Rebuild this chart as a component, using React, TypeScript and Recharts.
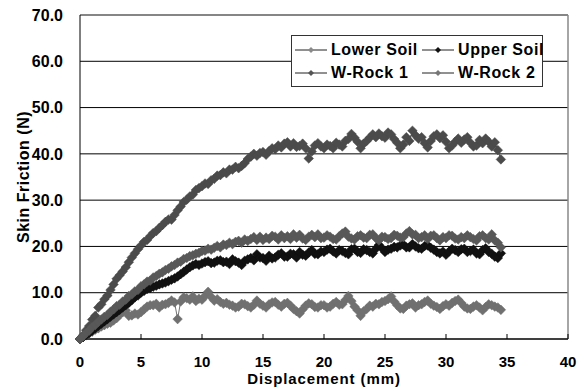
import React from 'react';
import { LineChart, Line, XAxis, YAxis, CartesianGrid, ReferenceLine, Legend } from 'recharts';

// displacement (mm), shared by all four series
const displacement = [
  0, 0.25, 0.5, 0.75, 1, 1.25, 1.5, 1.75, 2, 2.25, 2.5, 2.75, 3, 3.25, 3.5, 3.75, 4, 4.25, 4.5, 4.75,
  5, 5.25, 5.5, 5.75, 6, 6.25, 6.5, 6.75, 7, 7.25, 7.5, 7.75, 8, 8.25, 8.5, 8.75, 9, 9.25, 9.5, 9.75,
  10, 10.25, 10.5, 10.75, 11, 11.25, 11.5, 11.75, 12, 12.25, 12.5, 12.75, 13, 13.25, 13.5, 13.75, 14, 14.25, 14.5, 14.75,
  15, 15.25, 15.5, 15.75, 16, 16.25, 16.5, 16.75, 17, 17.25, 17.5, 17.75, 18, 18.25, 18.5, 18.75, 19, 19.25, 19.5, 19.75,
  20, 20.25, 20.5, 20.75, 21, 21.25, 21.5, 21.75, 22, 22.25, 22.5, 22.75, 23, 23.25, 23.5, 23.75, 24, 24.25, 24.5, 24.75,
  25, 25.25, 25.5, 25.75, 26, 26.25, 26.5, 26.75, 27, 27.25, 27.5, 27.75, 28, 28.25, 28.5, 28.75, 29, 29.25, 29.5, 29.75,
  30, 30.25, 30.5, 30.75, 31, 31.25, 31.5, 31.75, 32, 32.25, 32.5, 32.75, 33, 33.25, 33.5, 33.75, 34, 34.25, 34.5,
];

const lowerSoil = [
  0, 0.4, 0.8, 1.2, 1.6, 2, 2.3, 2.7, 3, 3.3, 3.5, 4, 4.5, 5.2, 5.8, 6.2, 5, 5.1, 5.5, 5.3,
  5.8, 6.4, 7, 7.3, 7.3, 7.6, 6.8, 7.4, 7.5, 7.8, 8.3, 7.9, 4.3, 8.1, 9, 8.8, 8.5, 9.2, 8.2, 8.7,
  8.5, 9.3, 10.2, 9.1, 8.3, 8.6, 8, 7.6, 7.8, 7.4, 7.2, 6.8, 7, 7.6, 7.5, 7.1, 6.8, 7.4, 8.3, 7.6,
  7.2, 6.8, 7.5, 7.9, 8, 7.4, 7, 7.6, 7.8, 7.2, 6.5, 6, 5.5, 6.4, 7.2, 7.7, 7.5, 6.9, 6.8, 7.3,
  7.3, 6.8, 7, 7.6, 8, 7.4, 7.5, 8.4, 9.3, 8.2, 7, 6.2, 5, 6, 6.5, 7.2, 7, 7.6, 7.5, 8,
  8.2, 8.6, 9.2, 8.1, 7.3, 6.6, 6.5, 7.2, 7.5, 7.7, 6.8, 7.3, 7.5, 8, 8.3, 7.6, 7.2, 6.9, 6.5, 7.1,
  7.5, 7.2, 7.8, 8.2, 8.5, 7.8, 7, 6.6, 6.5, 7, 7.3, 6.8, 6.2, 6.9, 7.5, 7.3, 7, 6.8, 6.3,
];

const upperSoil = [
  0, 0.4, 0.8, 1.3, 1.8, 2.3, 2.8, 3.3, 3.8, 4.3, 4.8, 5.3, 5.8, 6.3, 6.8, 7.3, 7.8, 8.4, 9, 9.4,
  10, 10.4, 10.8, 11, 11.3, 11.5, 11.8, 12, 12.2, 12.5, 12.8, 13.1, 13.5, 14, 14.5, 15, 15.5, 15.9, 16.2, 16,
  16.3, 16.6, 16.8, 16.4, 16.5, 16.9, 17, 16.6, 16.7, 16.2, 17.2, 16.8, 16.5, 16, 16.9, 17.2, 17.5, 17, 18.3, 17.6,
  17.5, 16.9, 18, 17.4, 17.6, 18.2, 18.5, 17.8, 17.8, 18.4, 18.3, 17.6, 18.8, 18.2, 18, 18.7, 19.2, 18.4, 18.3, 18.9,
  18.8, 19.3, 19.5, 18.9, 18.5, 19.2, 19, 18.6, 18.3, 19.4, 19.5, 18.8, 18.6, 19.4, 19.2, 18.8, 18.5, 19.5, 20.3, 19.6,
  18.8, 19.3, 19.5, 19.9, 19.8, 20.2, 20.4, 19.8, 19.8, 20.5, 20, 19.6, 19.5, 20.1, 20.2, 19.7, 19.3, 18.8, 18.5, 18.9,
  18.2, 18.9, 19.5, 19.2, 18.8, 19.4, 19.5, 18.8, 19, 19.3, 18.5, 18.3, 19.2, 19.6, 18.8, 18.4, 17.8, 17.5, 18.5,
];

const wRock1 = [
  0, 0.8, 1.9, 2.8, 4.2, 5, 6.8, 7.5, 8.6, 9.4, 10.6, 11.8, 13, 13.8, 14.6, 15.5, 16.6, 17.6, 18.5, 19.4,
  20.2, 21, 21.4, 22.2, 22.9, 23.3, 24, 24.6, 25.3, 25.8, 25.8, 26.8, 27.8, 28.6, 29.6, 30.1, 30.8, 31.2, 32.2, 32.6,
  33, 33.6, 33.5, 34.3, 34.6, 35.3, 35.4, 36, 35.8, 36.6, 36.6, 37.2, 36.9, 37.4, 38, 38.9, 39.4, 40, 39.6, 40.2,
  40.4, 39.8, 40.6, 41.2, 41, 41.8, 41.4, 42.2, 42.5, 41.6, 42.3, 41.5, 41.7, 42.2, 41.2, 39, 40.5, 41.8, 42.3, 41.6,
  41.2, 42, 41.7, 41.2, 42.4, 42, 41.6, 42.8, 43.2, 44.3, 43.5, 42.6, 41.2, 42.2, 42.8, 43.5, 44.2, 43.6, 44.4, 43.8,
  43.5, 44.6, 44.2, 43.2, 42.4, 41.2, 42, 43.6, 42.8, 45, 44, 43.3, 43.6, 42.3, 41.4, 42.8, 43.8, 44.2, 43.4, 44,
  42.6, 41.2, 41.8, 42.6, 43.3, 42.4, 43.1, 43.6, 42.4, 41.6, 41.8, 43, 42.3, 43.3, 42.6, 41.6, 42.5, 40.8, 38.8,
];

const wRock2 = [
  0, 0.6, 1.3, 1.8, 2.6, 3, 3.7, 4.2, 4.8, 5.2, 5.9, 6.4, 7.1, 7.4, 8.1, 8.5, 9.3, 9.6, 10.3, 10.6,
  11.4, 11.8, 12.4, 12.6, 13.3, 13.6, 14.1, 14.4, 14.9, 15.2, 15.7, 16, 16.5, 16.7, 17.3, 17.5, 17.9, 18.1, 18.4, 18.6,
  19, 19.1, 19.5, 19.3, 19.7, 20.1, 19.8, 20.4, 20.3, 20.8, 20.5, 21, 21.2, 20.8, 21.5, 21.2, 21.6, 22, 21.4, 22.1,
  21.4, 21.9, 21.6, 22.3, 22.1, 21.5, 22.4, 21.8, 22.2, 21.6, 22.6, 21.9, 22.5, 21.7, 21.4, 22.1, 22.5, 22, 22.6, 21.8,
  21.9, 22.4, 22.1, 21.6, 21.5, 22.2, 22.8, 23.2, 22.1, 21.7, 21.5, 22.2, 22.4, 21.9, 21.8, 22.5, 22.6, 21.8, 21.3, 22.1,
  22, 21.6, 21.8, 22.5, 22.3, 21.9, 22, 22.8, 23.3, 22.6, 22.5, 21.8, 22, 22.4, 21.6, 22.3, 22.4, 21.8, 21.3, 22,
  21.8, 22.4, 22.3, 21.7, 21.5, 22, 21.8, 22.4, 22, 21.6, 21.3, 22.2, 22.4, 21.8, 21.5, 22.6, 21.3, 20.8, 19.8,
];

const xTicks = [0, 5, 10, 15, 20, 25, 30, 35, 40];
const yTicks = [0, 10, 20, 30, 40, 50, 60, 70];

const seriesNames = ['Lower Soil', 'Upper Soil', 'W-Rock 1', 'W-Rock 2'];
const seriesKeys = ['lower', 'upper', 'rock1', 'rock2'];
const seriesColors = ['#707070', '#111111', '#4b4b4b', '#585858'];

const data = displacement.map((x, i) => ({
  x,
  lower: lowerSoil[i],
  upper: upperSoil[i],
  rock1: wRock1[i],
  rock2: wRock2[i],
}));

const FONT = '"Liberation Sans", Arial, sans-serif';

const makeDot = (color: string) => (props: any) => {
  const { cx, cy, index } = props;
  if (cx == null || cy == null) return <g key={`e-${index}`} />;
  const r = 4.8;
  return (
    <path
      key={`d-${index}`}
      d={`M${cx},${cy - r}L${cx + r},${cy}L${cx},${cy + r}L${cx - r},${cy}Z`}
      fill={color}
      stroke={color}
      strokeWidth={0.5}
    />
  );
};

const LegendItem = ({ name, color, left, top }: any) => (
  <div style={{ position: 'absolute', left, top, height: 20, display: 'flex', alignItems: 'center', whiteSpace: 'nowrap' }}>
    <svg width={32} height={12}>
      <line x1={0} y1={6} x2={32} y2={6} stroke="#222" strokeWidth={1} />
      <path d="M16,3L19,6L16,9L13,6Z" fill={color} />
    </svg>
    <span style={{ marginLeft: 4, fontFamily: FONT, fontWeight: 700, fontSize: 16, letterSpacing: 0.6, color: '#000' }}>
      {name}
    </span>
  </div>
);

const renderLegend = () => (
  <div style={{ position: 'relative', width: 252, height: 52, border: '1px solid #333', background: '#fff', boxSizing: 'border-box' }}>
    <LegendItem name={seriesNames[0]} color="#8a8a8a" left={3} top={4} />
    <LegendItem name={seriesNames[1]} color="#111" left={130} top={4} />
    <LegendItem name={seriesNames[2]} color="#555" left={3} top={27} />
    <LegendItem name={seriesNames[3]} color="#777" left={130} top={27} />
  </div>
);

export default function App() {
  return (
    <div style={{ position: 'absolute', left: 0, top: 0, width: 577, height: 387, background: '#fff' }}>
      <LineChart width={577} height={387} data={data} margin={{ top: 15, right: 9, bottom: 0, left: 0 }}>
        <CartesianGrid vertical={false} stroke="#000" strokeWidth={1} />
        <ReferenceLine y={70} stroke="#888" strokeWidth={1.5} />
        <ReferenceLine x={40} stroke="#888" strokeWidth={1.5} />
        <XAxis
          dataKey="x"
          type="number"
          domain={[0, 40]}
          ticks={xTicks}
          height={48}
          stroke="#000"
          tickSize={-5}
          tickMargin={22}
          tick={{ fill: '#000', fontSize: 15, fontWeight: 700, fontFamily: FONT }}
          label={{ value: 'Displacement (mm)', position: 'insideBottom', offset: 3, style: { fill: '#000', fontSize: 15, fontWeight: 700, fontFamily: FONT, letterSpacing: 0.9 } }}
        />
        <YAxis
          type="number"
          domain={[0, 70]}
          ticks={yTicks}
          width={80}
          stroke="#000"
          tickLine={false}
          tickSize={6}
          tickMargin={11}
          tickFormatter={(v: number) => v.toFixed(1)}
          tick={{ fill: '#000', fontSize: 16, fontWeight: 700, fontFamily: FONT }}
          label={{ value: 'Skin Friction (N)', angle: -90, position: 'insideLeft', offset: 23, style: { textAnchor: 'middle', fill: '#000', fontSize: 16, fontWeight: 700, fontFamily: FONT, letterSpacing: 0.5 } }}
        />
        <Legend
          layout="horizontal"
          verticalAlign="middle"
          align="center"
          content={renderLegend}
          wrapperStyle={{ position: 'absolute', left: 291, top: 35, width: 252, height: 52 }}
        />
        {seriesKeys.map((k, i) => (
          <Line
            key={k}
            dataKey={k}
            name={seriesNames[i]}
            type="linear"
            stroke={seriesColors[i]}
            strokeWidth={1}
            dot={makeDot(seriesColors[i])}
            activeDot={false}
            isAnimationActive={false}
          />
        ))}
      </LineChart>
    </div>
  );
}
